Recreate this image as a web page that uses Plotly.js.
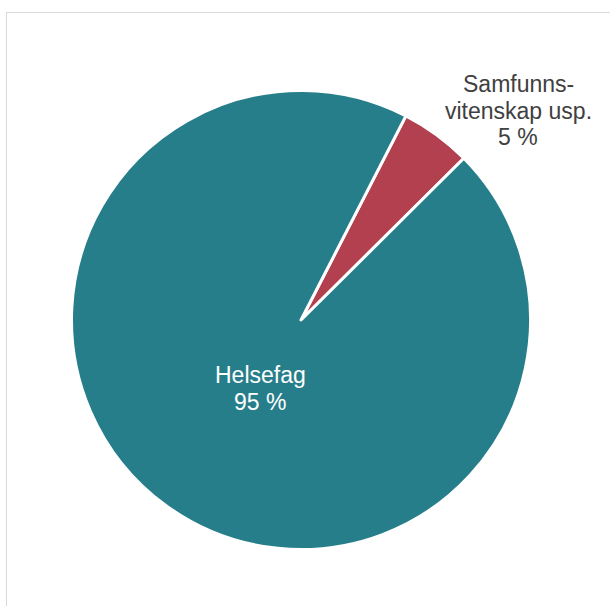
<!DOCTYPE html>
<html>
<head>
<meta charset="utf-8">
<script src="https://cdn.plot.ly/plotly-3.0.1.min.js"></script>
<style>
  html, body { margin: 0; padding: 0; background: #ffffff; }
  #frame { position: absolute; left: 6px; top: 12px; width: 700px; height: 700px;
           border-left: 1px solid #d9d9d9; border-top: 1px solid #d9d9d9; }
  #chart { position: absolute; left: 0; top: 0; width: 610px; height: 606px; }
</style>
</head>
<body>
<div id="frame"></div>
<div id="chart"></div>
<script>
const categories = ["Samfunns-<br>vitenskap usp.", "Helsefag"];
const values = [5, 95];
const sliceColors = ["#b2404e", "#277e8b"];
const labelColors = ["#404040", "#ffffff"];

const W = 610, H = 606;
const cx = 301, cy = 320, r = 229.5;
const FONT = "Liberation Sans, Arial, sans-serif";
const FS = 23;
// label block centre (pixels) and line step for each slice label
const labelAnchors = [{ x: 518, y: 84 }, { x: 260, y: 375 }];
const lineStep = 26.5;

const trace = {
  type: "pie",
  labels: categories,
  values: values,
  sort: false,
  direction: "clockwise",
  rotation: 27.2,
  marker: { colors: sliceColors, line: { color: "#ffffff", width: 3 } },
  textinfo: "none",
  showlegend: false,
  hoverinfo: "none",
  domain: {
    x: [(cx - r) / W, (cx + r) / W],
    y: [1 - (cy + r) / H, 1 - (cy - r) / H]
  }
};

const total = values.reduce((a, b) => a + b, 0);
const annotations = [];
categories.forEach((cat, i) => {
  const lines = cat.split("<br>").concat([Math.round(values[i] / total * 100) + " %"]);
  lines.forEach((line, j) => {
    annotations.push({
      xref: "paper", yref: "paper",
      x: labelAnchors[i].x / W,
      y: 1 - (labelAnchors[i].y + j * lineStep) / H,
      xanchor: "center", yanchor: "middle",
      text: line, showarrow: false,
      font: { family: FONT, size: FS, color: labelColors[i] }
    });
  });
});

const layout = {
  width: W, height: H,
  margin: { l: 0, r: 0, t: 0, b: 0 },
  paper_bgcolor: "rgba(0,0,0,0)",
  plot_bgcolor: "rgba(0,0,0,0)",
  showlegend: false,
  font: { family: FONT },
  annotations: annotations
};

Plotly.newPlot("chart", [trace], layout, { displayModeBar: false, staticPlot: true });
</script>
</body>
</html>
